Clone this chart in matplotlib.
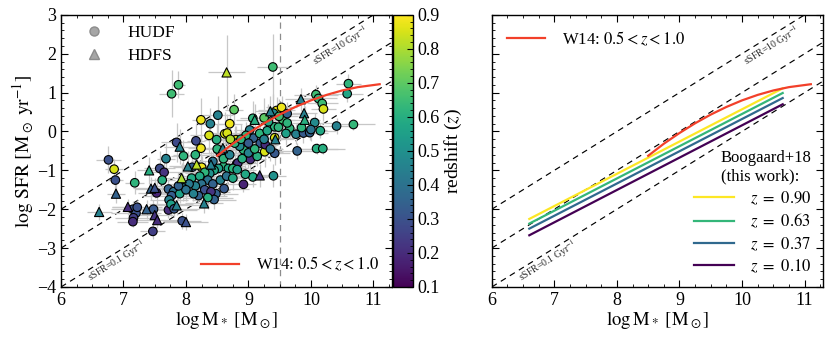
import numpy as np
import matplotlib
matplotlib.use('Agg')
from matplotlib import pyplot as plt
from matplotlib.lines import Line2D
from matplotlib.ticker import AutoMinorLocator, MultipleLocator

plt.rcParams['font.family'] = ['Liberation Serif', 'DejaVu Serif']
plt.rcParams['mathtext.fontset'] = 'stix'
plt.rcParams['font.size'] = 11

# HUDF galaxies (circles)
hudf_mass = [6.76, 6.85, 6.87, 7.18, 7.15, 7.20, 7.16, 7.15, 7.53, 7.47,
             7.48, 7.58, 7.65, 7.62, 7.68, 7.72, 7.72, 7.80, 7.77, 7.73,
             7.76, 7.81, 7.77, 7.88, 7.85, 7.96, 7.94, 8.10, 8.09, 8.16,
             8.24, 8.24, 8.25, 8.39, 8.51, 8.37, 8.49, 8.43, 8.62, 8.70,
             8.77, 8.80, 8.81, 8.92, 8.61, 8.48, 9.03, 9.07, 9.26, 9.07,
             9.39, 9.40, 9.45, 9.53, 9.42, 9.42, 9.42, 9.55, 9.62, 9.66,
             9.76, 9.78, 9.88, 9.98, 10.08, 10.12, 10.18, 10.20, 10.06, 10.15,
             10.09, 10.19, 10.41, 10.60, 10.58, 10.68, 9.08, 9.19, 9.27, 9.02,
             8.96, 8.92, 8.86, 8.78, 8.66, 8.71, 8.83, 8.90, 9.14, 9.00,
             9.18, 9.30, 9.48, 9.40, 9.49, 9.35, 8.60, 8.68, 8.75, 8.82,
             8.95, 8.52, 8.45, 8.38, 8.30, 8.22, 8.35, 8.43, 8.25, 8.15,
             8.05, 8.30, 8.40, 8.20, 8.45, 8.35, 7.95, 7.90, 8.00, 7.88,
             8.12, 8.55, 8.65, 8.75, 8.55, 8.60, 8.70, 8.50, 9.10, 9.25,
             9.32, 9.25, 9.60, 8.88, 9.00, 8.15, 7.22, 9.62, 9.85, 10.00]
hudf_sfr = [-0.73, -0.97, -1.25, -1.32, -2.00, -2.10, -2.22, -2.32, -1.58, -2.57,
            -2.00, -0.95, -1.05, -1.25, -0.70, -2.02, -1.48, -1.55, -1.65, -1.76,
            -1.87, -1.99, 0.97, 1.20, -0.28, -0.63, -2.30, -0.92, -1.20, -0.24,
            -0.43, 0.30, -0.92, 0.20, 0.42, -0.10, -0.21, -0.77, -0.06, 0.20,
            0.56, -0.21, -0.84, -1.36, -1.47, -1.60, -0.72, 0.34, -0.52, -1.17,
            1.66, -1.14, 0.54, 0.62, 0.12, -0.16, -0.56, 0.30, 0.46, 0.08,
            -0.07, -0.50, -0.04, -0.03, 0.95, 0.85, 0.72, 0.58, 0.23, 0.02,
            -0.44, -0.44, 0.14, 1.23, 0.97, 0.18, -0.17, -0.30, -0.34, 0.04,
            -0.10, -0.47, -0.38, -0.30, -0.04, -0.20, -0.81, -0.70, -0.64, -0.55,
            -0.05, 0.02, 0.11, 0.47, 0.39, -0.45, -0.90, -0.95, -0.95, -0.98,
            -1.10, -0.95, -1.00, -1.08, -1.05, -1.15, -1.25, -1.35, -1.35, -1.40,
            -1.35, -1.50, -1.55, -1.65, -1.75, -1.70, -1.45, -1.60, -1.50, -1.40,
            -1.60, -1.25, -1.15, -1.20, -0.55, -0.70, -0.60, -0.45, -0.45, -0.20,
            0.25, 0.35, -0.05, -0.20, -0.30, -0.60, -1.95, 0.22, 0.10, 0.05]
hudf_z = [0.30, 0.85, 0.30, 0.62, 0.30, 0.30, 0.25, 0.20, 0.18, 0.25,
          0.32, 0.28, 0.22, 0.60, 0.45, 0.20, 0.35, 0.40, 0.33, 0.45,
          0.55, 0.32, 0.65, 0.65, 0.28, 0.62, 0.30, 0.33, 0.58, 0.28,
          0.88, 0.88, 0.88, 0.45, 0.45, 0.85, 0.60, 0.40, 0.85, 0.88,
          0.70, 0.85, 0.25, 0.18, 0.32, 0.35, 0.20, 0.62, 0.85, 0.58,
          0.65, 0.50, 0.88, 0.88, 0.62, 0.85, 0.32, 0.65, 0.35, 0.62,
          0.45, 0.35, 0.33, 0.35, 0.65, 0.62, 0.65, 0.85, 0.48, 0.58,
          0.60, 0.60, 0.45, 0.62, 0.57, 0.63, 0.35, 0.33, 0.20, 0.45,
          0.62, 0.62, 0.48, 0.62, 0.85, 0.80, 0.22, 0.60, 0.60, 0.45,
          0.62, 0.58, 0.62, 0.48, 0.65, 0.40, 0.62, 0.58, 0.62, 0.55,
          0.58, 0.55, 0.58, 0.50, 0.62, 0.58, 0.40, 0.35, 0.40, 0.45,
          0.42, 0.30, 0.22, 0.35, 0.35, 0.60, 0.45, 0.55, 0.40, 0.35,
          0.45, 0.45, 0.40, 0.58, 0.40, 0.62, 0.45, 0.62, 0.62, 0.45,
          0.58, 0.70, 0.55, 0.62, 0.33, 0.62, 0.30, 0.62, 0.62, 0.40]
hudf_mass_err = [0.20, 0.15, 0.12, 0.15, 0.35, 0.40, 0.30, 0.25, 0.30, 0.20,
                 0.40, 0.25, 0.30, 0.20, 0.15, 0.45, 0.35, 0.40, 0.45, 0.30,
                 0.35, 0.40, 0.20, 0.10, 0.25, 0.20, 0.30, 0.30, 0.25, 0.15,
                 0.20, 0.15, 0.35, 0.20, 0.25, 0.30, 0.20, 0.35, 0.25, 0.20,
                 0.15, 0.30, 0.25, 0.20, 0.40, 0.35, 0.25, 0.20, 0.30, 0.25,
                 0.25, 0.20, 0.30, 0.25, 0.20, 0.30, 0.25, 0.20, 0.30, 0.25,
                 0.20, 0.30, 0.25, 0.30, 0.35, 0.30, 0.25, 0.20, 0.30, 0.25,
                 0.35, 0.35, 0.30, 0.20, 0.25, 0.35, 0.25, 0.30, 0.20, 0.25,
                 0.30, 0.25, 0.20, 0.30, 0.25, 0.20, 0.30, 0.25, 0.20, 0.30,
                 0.25, 0.30, 0.20, 0.25, 0.30, 0.20, 0.35, 0.30, 0.25, 0.30,
                 0.25, 0.35, 0.30, 0.40, 0.35, 0.30, 0.40, 0.35, 0.45, 0.40,
                 0.35, 0.40, 0.30, 0.45, 0.35, 0.40, 0.45, 0.40, 0.35, 0.45,
                 0.40, 0.30, 0.35, 0.25, 0.30, 0.25, 0.30, 0.35, 0.25, 0.30,
                 0.20, 0.25, 0.30, 0.25, 0.30, 0.35, 0.40, 0.25, 0.30, 0.25]
hudf_sfr_err = [0.35, 0.25, 0.30, 0.30, 0.20, 0.25, 0.20, 0.15, 0.30, 0.20,
                0.25, 0.45, 0.30, 0.35, 0.40, 0.20, 0.25, 0.20, 0.25, 0.20,
                0.30, 0.20, 0.60, 0.35, 0.50, 0.40, 0.20, 0.30, 0.25, 0.45,
                0.35, 0.55, 0.30, 0.40, 0.50, 0.45, 0.40, 0.30, 0.55, 0.45,
                0.40, 0.35, 0.25, 0.20, 0.20, 0.25, 0.30, 0.45, 0.40, 0.25,
                0.85, 0.30, 0.35, 0.30, 0.50, 0.45, 0.30, 0.35, 0.30, 0.25,
                0.25, 0.20, 0.25, 0.20, 0.25, 0.20, 0.25, 0.30, 0.25, 0.20,
                0.15, 0.15, 0.20, 0.25, 0.20, 0.15, 0.35, 0.30, 0.25, 0.40,
                0.35, 0.30, 0.40, 0.45, 0.50, 0.45, 0.30, 0.35, 0.25, 0.40,
                0.45, 0.35, 0.40, 0.50, 0.45, 0.30, 0.25, 0.30, 0.25, 0.30,
                0.25, 0.35, 0.30, 0.25, 0.30, 0.25, 0.30, 0.25, 0.20, 0.30,
                0.25, 0.20, 0.25, 0.20, 0.25, 0.30, 0.35, 0.25, 0.30, 0.35,
                0.20, 0.30, 0.25, 0.30, 0.45, 0.40, 0.35, 0.40, 0.35, 0.40,
                0.45, 0.50, 0.30, 0.40, 0.35, 0.45, 0.20, 0.30, 0.25, 0.30]

# HDFS galaxies (triangles)
hdfs_mass = [6.88, 6.61, 7.07, 7.37, 7.41, 7.44, 7.50, 7.54, 7.85, 7.90,
             7.93, 8.00, 8.03, 8.17, 8.29, 8.59, 8.65, 9.18, 9.35, 9.43,
             9.84, 9.89, 9.90, 9.10, 7.50, 8.40]
hdfs_sfr = [-1.60, -2.07, -1.94, -2.00, -1.00, -1.47, -2.15, -2.28, -1.90, -0.39,
            -1.20, -2.33, -0.90, -0.85, -1.85, -0.43, 1.52, -1.13, 0.52, -0.20,
            0.83, 0.47, 0.30, 0.30, -1.45, -0.85]
hdfs_z = [0.35, 0.45, 0.20, 0.35, 0.60, 0.35, 0.22, 0.20, 0.45, 0.45,
          0.80, 0.30, 0.45, 0.82, 0.45, 0.45, 0.82, 0.22, 0.45, 0.45,
          0.45, 0.45, 0.60, 0.60, 0.30, 0.45]
hdfs_mass_err = [0.15, 0.20, 0.25, 0.30, 0.20, 0.25, 0.30, 0.35, 0.40, 0.25,
                 0.30, 0.35, 0.30, 0.25, 0.30, 0.25, 0.30, 0.20, 0.25, 0.30,
                 0.25, 0.20, 0.25, 0.30, 0.35, 0.30]
hdfs_sfr_err = [0.25, 0.20, 0.20, 0.25, 0.35, 0.30, 0.20, 0.20, 0.25, 0.45,
                0.40, 0.20, 0.40, 0.45, 0.25, 0.40, 0.95, 0.30, 0.40, 0.50,
                0.30, 0.30, 0.35, 0.40, 0.25, 0.35]

# Whitaker+14 curve (0.5 < z < 1.0)
w14_mass = [8.5, 8.75, 9.0, 9.25, 9.5, 9.75, 10.0, 10.25, 10.5, 10.75, 11.1]
w14_sfr = [-0.625, -0.315, -0.04, 0.211, 0.435, 0.631, 0.80, 0.941, 1.055, 1.141, 1.216]

# Boogaard+18 main sequence at fixed redshift (end points)
b18_z = [0.90, 0.63, 0.37, 0.10]
b18_mass = [6.6, 10.65]
b18_sfr = [[-2.25, 1.11], [-2.37, 0.99], [-2.50, 0.86], [-2.67, 0.70]]

# lines of constant sSFR [Gyr^-1]
ssfr_vals = [10, 1, 0.1]

zmin, zmax = 0.1, 0.9
w14_color = '#f2402a'


def style_axes(ax):
    ax.set_xlim(6, 11.3)
    ax.set_ylim(-4, 3)
    ax.xaxis.set_major_locator(MultipleLocator(1))
    ax.yaxis.set_major_locator(MultipleLocator(1))
    ax.xaxis.set_minor_locator(AutoMinorLocator(4))
    ax.yaxis.set_minor_locator(AutoMinorLocator(5))
    ax.tick_params(which='both', direction='in', top=True, right=True, labelsize=13)
    ax.tick_params(which='major', length=5, width=0.8)
    ax.tick_params(which='minor', length=2.5, width=0.6)
    for sp in ax.spines.values():
        sp.set_linewidth(1.0)
    ax.set_xlabel(r'$\log\mathrm{M}_*\ [\mathrm{M}_\odot]$', fontsize=13.5, labelpad=0)


def draw_ssfr(ax):
    for s in ssfr_vals:
        ax.axline((0, np.log10(s) - 9), slope=1, color='k', ls=(0, (5, 4)), lw=0.85, zorder=1)
    ax.text(10.47, 2.2, r'sSFR=10 Gyr$^{-1}$', fontsize=7, rotation=32,
            ha='center', va='center', color='0.15')
    ax.text(6.9, -3.32, r'sSFR=0.1 Gyr$^{-1}$', fontsize=7, rotation=32,
            ha='center', va='center', color='0.15')


def main():
    fig = plt.figure(figsize=(8.3, 3.38), dpi=100)
    ax1 = fig.add_axes([0.0735, 0.151, 0.399, 0.805])
    cax = fig.add_axes([0.4735, 0.151, 0.024, 0.805])
    ax2 = fig.add_axes([0.5925, 0.151, 0.3995, 0.805])

    cmap = plt.get_cmap('viridis')

    # left panel
    draw_ssfr(ax1)
    ax1.axvline(9.5, color='0.55', ls=(0, (5, 4)), lw=0.9, zorder=1)
    ax1.errorbar(hudf_mass, hudf_sfr, xerr=hudf_mass_err, yerr=hudf_sfr_err,
                 fmt='none', ecolor='0.78', elinewidth=0.9, zorder=2)
    ax1.errorbar(hdfs_mass, hdfs_sfr, xerr=hdfs_mass_err, yerr=hdfs_sfr_err,
                 fmt='none', ecolor='0.78', elinewidth=0.9, zorder=2)
    sc = ax1.scatter(hudf_mass, hudf_sfr, c=hudf_z, cmap=cmap, vmin=zmin, vmax=zmax,
                     marker='o', s=38, edgecolors='k', linewidths=0.8, zorder=3)
    ax1.scatter(hdfs_mass, hdfs_sfr, c=hdfs_z, cmap=cmap, vmin=zmin, vmax=zmax,
                marker='^', s=44, edgecolors='k', linewidths=0.8, zorder=3)
    w14_line, = ax1.plot(w14_mass, w14_sfr, color=w14_color, lw=1.6, zorder=4)
    style_axes(ax1)
    ax1.set_ylabel(r'$\log\,\mathrm{SFR}\ [\mathrm{M}_\odot\ \mathrm{yr}^{-1}]$', fontsize=14, labelpad=1)

    h_hudf = Line2D([], [], ls='none', marker='o', ms=6.5, mfc='0.65', mec='0.55')
    h_hdfs = Line2D([], [], ls='none', marker='^', ms=7, mfc='0.65', mec='0.55')
    leg1 = ax1.legend([h_hudf, h_hdfs], ['HUDF', 'HDFS'], loc='upper left', frameon=False,
                      fontsize=12.5, handletextpad=0.9, labelspacing=0.4,
                      bbox_to_anchor=(0.0, 1.02))
    ax1.add_artist(leg1)
    ax1.legend([w14_line], [r'W14: $0.5 < z < 1.0$'], loc='lower right', frameon=False,
               fontsize=12, handlelength=2.3, handletextpad=1.0, borderaxespad=0.4)

    cb = fig.colorbar(sc, cax=cax)
    cb.set_ticks([0.1, 0.2, 0.3, 0.4, 0.5, 0.6, 0.7, 0.8, 0.9])
    cb.ax.yaxis.set_minor_locator(AutoMinorLocator(5))
    cb.ax.tick_params(which='both', direction='in', labelsize=13)
    cb.ax.tick_params(which='major', length=4)
    cb.ax.tick_params(which='minor', length=2)
    cb.set_label(r'redshift ($z$)', fontsize=14, labelpad=2)
    cb.outline.set_linewidth(1.0)

    # right panel
    draw_ssfr(ax2)
    w14_line2, = ax2.plot(w14_mass, w14_sfr, color=w14_color, lw=1.6, zorder=4)
    b18_lines = []
    for zz, yy in zip(b18_z, b18_sfr):
        ln, = ax2.plot(b18_mass, yy, color=cmap((zz - zmin) / (zmax - zmin)), lw=1.6, zorder=3)
        b18_lines.append(ln)
    style_axes(ax2)
    ax2.set_yticklabels([])

    leg2 = ax2.legend([w14_line2], [r'W14: $0.5 < z < 1.0$'], loc='upper left', frameon=False,
                      fontsize=12, handlelength=2.3, handletextpad=1.0)
    ax2.add_artist(leg2)
    ax2.legend(b18_lines, [r'$z\ =\ %.2f$' % zz for zz in b18_z], loc='lower right',
               frameon=False, fontsize=12, title='Boogaard+18\n(this work):',
               title_fontsize=12, alignment='right', handlelength=2.4, handletextpad=1.0,
               labelspacing=0.3, borderaxespad=0.3)

    plt.savefig('out.png', dpi=100)


if __name__ == '__main__':
    main()
